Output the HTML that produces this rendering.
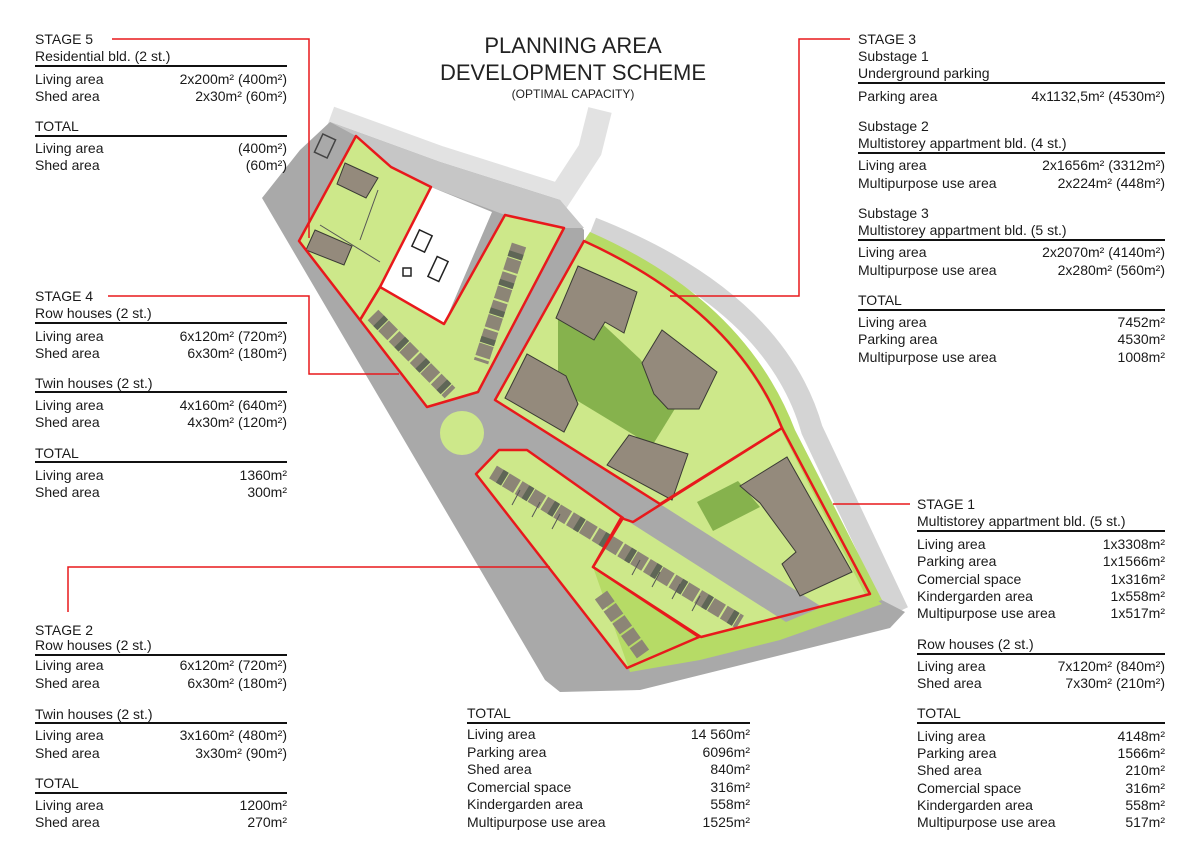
<!DOCTYPE html>
<html><head><meta charset="utf-8"><style>
*{margin:0;padding:0;box-sizing:border-box}
body{width:1200px;height:857px;background:#fff;position:relative;overflow:hidden;font-family:"Liberation Sans",Arial,sans-serif;color:#1a1a1a}
.t{position:absolute;font-size:14px;line-height:18px;white-space:nowrap}
.r{position:absolute;font-size:14px;line-height:18px;display:flex;justify-content:space-between;white-space:nowrap}
.h{position:absolute;height:2px;background:#111}
.a{width:252px;left:35px}
.b{width:307px;left:858px}
.c{width:248px;left:917px}
.d{width:283px;left:467px}
.ttl{position:absolute;left:400px;width:346px;text-align:center;color:#222}
svg{position:absolute;left:0;top:0}
</style></head><body>
<svg width="1200" height="857" viewBox="0 0 1200 857">
<!-- light road bands -->
<path d="M592,228 Q775,300 812,430 L898,612" fill="none" stroke="#d4d4d4" stroke-width="22"/>
<path d="M330,118 L440,158 L560,196 L590,150 L600,110" fill="none" stroke="#e2e2e2" stroke-width="24"/>
<!-- main gray roads -->
<path d="M262,198 L300,150 L330,122 L440,162 L560,200 L584,230 L584,241 L790,430 L870,594 L905,612 L890,628 L640,690 L560,692 L545,680 Z" fill="#a9a9a9"/>
<path d="M330,122 L440,162 L560,200 L584,228 L564,228 L505,215 L431,187 L391,167 L356,136 Z" fill="#c6c6c6"/>
<!-- white existing lot -->
<polygon points="431,187 380,287 444,324 492,212" fill="#fff"/>
<rect x="415" y="232" width="14" height="18" fill="none" stroke="#222" stroke-width="1.5" transform="rotate(25 422 241)"/>
<rect x="432" y="258" width="12" height="22" fill="none" stroke="#222" stroke-width="1.5" transform="rotate(25 438 269)"/>
<rect x="403" y="268" width="8" height="8" fill="none" stroke="#222" stroke-width="1.5"/>
<rect x="318" y="136" width="14" height="20" fill="none" stroke="#444" stroke-width="1.5" transform="rotate(25 325 146)"/>
<!-- green parcels -->
<path d="M584,241 Q735,310 782,428 L870,594 L701,637 L593,567 L621,518 L633,522 L660,504 L495,400 Z" fill="#cde88a"/>
<path d="M590,232 Q745,300 795,430 L882,600 L870,604 L782,432 Q735,312 584,241 Z" fill="#b6db66"/>
<polygon points="299,241 356,136 391,167 431,187 380,287 360,320" fill="#cde88a"/>
<polygon points="360,320 380,287 444,324 505,215 564,228 478,392 427,407" fill="#cde88a"/>
<polygon points="476,474 499,450 527,450 623,518 593,567 699,637 627,668" fill="#cde88a"/>
<path d="M593,567 L699,637 L870,594 L882,604 L780,640 L700,660 L630,672 Z" fill="#b6db66"/>
<!-- central road inside stage1 -->
<polygon points="623,518 660,504 822,607 786,622" fill="#a9a9a9"/>
<circle cx="462" cy="433" r="22" fill="#cde88a"/>
<!-- courtyard -->
<polygon points="558,318 595,317 640,359 676,407 652,446 558,389" fill="#86b24d"/>
<polygon points="697,502 738,481 760,507 713,531" fill="#86b24d"/>
<!-- buildings -->
<g fill="#948a7c" stroke="#3a3a34" stroke-width="1">
<polygon points="578,266 637,292 624,333 605,322 594,340 556,318"/>
<polygon points="505,398 527,354 566,376 578,404 564,432"/>
<polygon points="642,363 662,330 717,372 699,409 668,409 654,394"/>
<polygon points="607,465 629,435 688,454 672,500"/>
<polygon points="740,486 787,457 852,572 800,596 782,564 796,552 760,503"/>
<polygon points="345,163 378,178 366,198 337,184"/>
<polygon points="315,230 352,246 344,265 306,250"/>
</g>
<!-- row houses -->
<g stroke-dasharray="13 2" stroke-width="15">
<line x1="493" y1="472" x2="740" y2="622" stroke="#8c8576"/>
<line x1="601" y1="595" x2="643" y2="654" stroke="#8c8576"/>
<line x1="373" y1="315" x2="450" y2="393" stroke="#8c8576"/>
<line x1="519" y1="245" x2="481" y2="362" stroke="#8c8576"/>
</g>
<g stroke-dasharray="6 24" stroke-dashoffset="-8" stroke-width="15">
<line x1="493" y1="472" x2="740" y2="622" stroke="#5f6656"/>
<line x1="373" y1="315" x2="450" y2="393" stroke="#5f6656"/>
<line x1="519" y1="245" x2="481" y2="362" stroke="#5f6656"/>
</g>
<!-- parking stripes -->
<g stroke="#555" stroke-width="1">
<line x1="520" y1="490" x2="512" y2="505"/><line x1="540" y1="502" x2="532" y2="517"/><line x1="560" y1="514" x2="552" y2="529"/>
<line x1="640" y1="560" x2="632" y2="575"/><line x1="660" y1="572" x2="652" y2="587"/><line x1="680" y1="584" x2="672" y2="599"/><line x1="700" y1="596" x2="692" y2="611"/>
<line x1="378" y1="190" x2="360" y2="240"/><line x1="320" y1="225" x2="380" y2="262"/>
</g>
<!-- red outlines -->
<g fill="none" stroke="#e8191c" stroke-width="2.5" stroke-linejoin="round">
<polygon points="299,241 356,136 391,167 431,187 380,287 360,320"/>
<polygon points="360,320 380,287 444,324 505,215 564,228 478,392 427,407"/>
<path d="M495,400 L584,241 Q735,310 782,428 L660,504 Z"/>
<path d="M782,428 L633,522 L621,518 L593,567 L701,637 L870,594 Z"/>
<polygon points="476,474 499,450 527,450 623,518 593,567 699,637 627,668"/>
</g>
<g fill="none" stroke="#e8191c" stroke-width="1.5">
<polyline points="112,39 309,39 309,238"/>
<polyline points="108,296 309,296 309,374 399,374"/>
<polyline points="850,39 799,39 799,296 670,296"/>
<polyline points="833,504 910,504"/>
<polyline points="68,612 68,567 550,567"/>
</g>
</svg>

<div class="ttl" style="top:34px;font-size:22px;line-height:24px">PLANNING AREA</div>
<div class="ttl" style="top:61px;font-size:22px;line-height:24px">DEVELOPMENT SCHEME</div>
<div class="ttl" style="top:87px;font-size:12px;line-height:14px">(OPTIMAL CAPACITY)</div>

<!-- STAGE 5 -->
<div class="t" style="left:35px;top:30px">STAGE 5</div>
<div class="t" style="left:35px;top:47px">Residential bld. (2 st.)</div>
<div class="h a" style="top:65px"></div>
<div class="r a" style="top:70px"><span>Living area</span><span>2x200m² (400m²)</span></div>
<div class="r a" style="top:87px"><span>Shed area</span><span>2x30m² (60m²)</span></div>
<div class="t" style="left:35px;top:117px">TOTAL</div>
<div class="h a" style="top:135px"></div>
<div class="r a" style="top:139px"><span>Living area</span><span>(400m²)</span></div>
<div class="r a" style="top:156px"><span>Shed area</span><span>(60m²)</span></div>

<!-- STAGE 4 -->
<div class="t" style="left:35px;top:287px">STAGE 4</div>
<div class="t" style="left:35px;top:304px">Row houses (2 st.)</div>
<div class="h a" style="top:322px"></div>
<div class="r a" style="top:327px"><span>Living area</span><span>6x120m² (720m²)</span></div>
<div class="r a" style="top:344px"><span>Shed area</span><span>6x30m² (180m²)</span></div>
<div class="t" style="left:35px;top:374px">Twin houses (2 st.)</div>
<div class="h a" style="top:391px"></div>
<div class="r a" style="top:396px"><span>Living area</span><span>4x160m² (640m²)</span></div>
<div class="r a" style="top:413px"><span>Shed area</span><span>4x30m² (120m²)</span></div>
<div class="t" style="left:35px;top:444px">TOTAL</div>
<div class="h a" style="top:461px"></div>
<div class="r a" style="top:466px"><span>Living area</span><span>1360m²</span></div>
<div class="r a" style="top:483px"><span>Shed area</span><span>300m²</span></div>

<!-- STAGE 2 -->
<div class="t" style="left:35px;top:621px">STAGE 2</div>
<div class="t" style="left:35px;top:636px">Row houses (2 st.)</div>
<div class="h a" style="top:654px"></div>
<div class="r a" style="top:656px"><span>Living area</span><span>6x120m² (720m²)</span></div>
<div class="r a" style="top:674px"><span>Shed area</span><span>6x30m² (180m²)</span></div>
<div class="t" style="left:35px;top:705px">Twin houses (2 st.)</div>
<div class="h a" style="top:722px"></div>
<div class="r a" style="top:726px"><span>Living area</span><span>3x160m² (480m²)</span></div>
<div class="r a" style="top:744px"><span>Shed area</span><span>3x30m² (90m²)</span></div>
<div class="t" style="left:35px;top:774px">TOTAL</div>
<div class="h a" style="top:792px"></div>
<div class="r a" style="top:796px"><span>Living area</span><span>1200m²</span></div>
<div class="r a" style="top:813px"><span>Shed area</span><span>270m²</span></div>

<!-- STAGE 3 -->
<div class="t" style="left:858px;top:30px">STAGE 3</div>
<div class="t" style="left:858px;top:47px">Substage 1</div>
<div class="t" style="left:858px;top:64px">Underground parking</div>
<div class="h b" style="top:82px"></div>
<div class="r b" style="top:87px"><span>Parking area</span><span>4x1132,5m² (4530m²)</span></div>
<div class="t" style="left:858px;top:117px">Substage 2</div>
<div class="t" style="left:858px;top:134px">Multistorey appartment bld. (4 st.)</div>
<div class="h b" style="top:152px"></div>
<div class="r b" style="top:156px"><span>Living area</span><span>2x1656m² (3312m²)</span></div>
<div class="r b" style="top:174px"><span>Multipurpose use area</span><span>2x224m² (448m²)</span></div>
<div class="t" style="left:858px;top:204px">Substage 3</div>
<div class="t" style="left:858px;top:221px">Multistorey appartment bld. (5 st.)</div>
<div class="h b" style="top:239px"></div>
<div class="r b" style="top:243px"><span>Living area</span><span>2x2070m² (4140m²)</span></div>
<div class="r b" style="top:261px"><span>Multipurpose use area</span><span>2x280m² (560m²)</span></div>
<div class="t" style="left:858px;top:291px">TOTAL</div>
<div class="h b" style="top:309px"></div>
<div class="r b" style="top:313px"><span>Living area</span><span>7452m²</span></div>
<div class="r b" style="top:330px"><span>Parking area</span><span>4530m²</span></div>
<div class="r b" style="top:348px"><span>Multipurpose use area</span><span>1008m²</span></div>

<!-- STAGE 1 -->
<div class="t" style="left:917px;top:495px">STAGE 1</div>
<div class="t" style="left:917px;top:512px">Multistorey appartment bld. (5 st.)</div>
<div class="h c" style="top:530px"></div>
<div class="r c" style="top:535px"><span>Living area</span><span>1x3308m²</span></div>
<div class="r c" style="top:552px"><span>Parking area</span><span>1x1566m²</span></div>
<div class="r c" style="top:570px"><span>Comercial space</span><span>1x316m²</span></div>
<div class="r c" style="top:587px"><span>Kindergarden area</span><span>1x558m²</span></div>
<div class="r c" style="top:604px"><span>Multipurpose use area</span><span>1x517m²</span></div>
<div class="t" style="left:917px;top:635px">Row houses (2 st.)</div>
<div class="h c" style="top:653px"></div>
<div class="r c" style="top:657px"><span>Living area</span><span>7x120m² (840m²)</span></div>
<div class="r c" style="top:674px"><span>Shed area</span><span>7x30m² (210m²)</span></div>
<div class="t" style="left:917px;top:704px">TOTAL</div>
<div class="h c" style="top:722px"></div>
<div class="r c" style="top:727px"><span>Living area</span><span>4148m²</span></div>
<div class="r c" style="top:744px"><span>Parking area</span><span>1566m²</span></div>
<div class="r c" style="top:761px"><span>Shed area</span><span>210m²</span></div>
<div class="r c" style="top:779px"><span>Comercial space</span><span>316m²</span></div>
<div class="r c" style="top:796px"><span>Kindergarden area</span><span>558m²</span></div>
<div class="r c" style="top:813px"><span>Multipurpose use area</span><span>517m²</span></div>

<!-- CENTER TOTAL -->
<div class="t" style="left:467px;top:704px">TOTAL</div>
<div class="h d" style="top:722px"></div>
<div class="r d" style="top:725px"><span>Living area</span><span>14 560m²</span></div>
<div class="r d" style="top:743px"><span>Parking area</span><span>6096m²</span></div>
<div class="r d" style="top:760px"><span>Shed area</span><span>840m²</span></div>
<div class="r d" style="top:778px"><span>Comercial space</span><span>316m²</span></div>
<div class="r d" style="top:795px"><span>Kindergarden area</span><span>558m²</span></div>
<div class="r d" style="top:813px"><span>Multipurpose use area</span><span>1525m²</span></div>
</body></html>
